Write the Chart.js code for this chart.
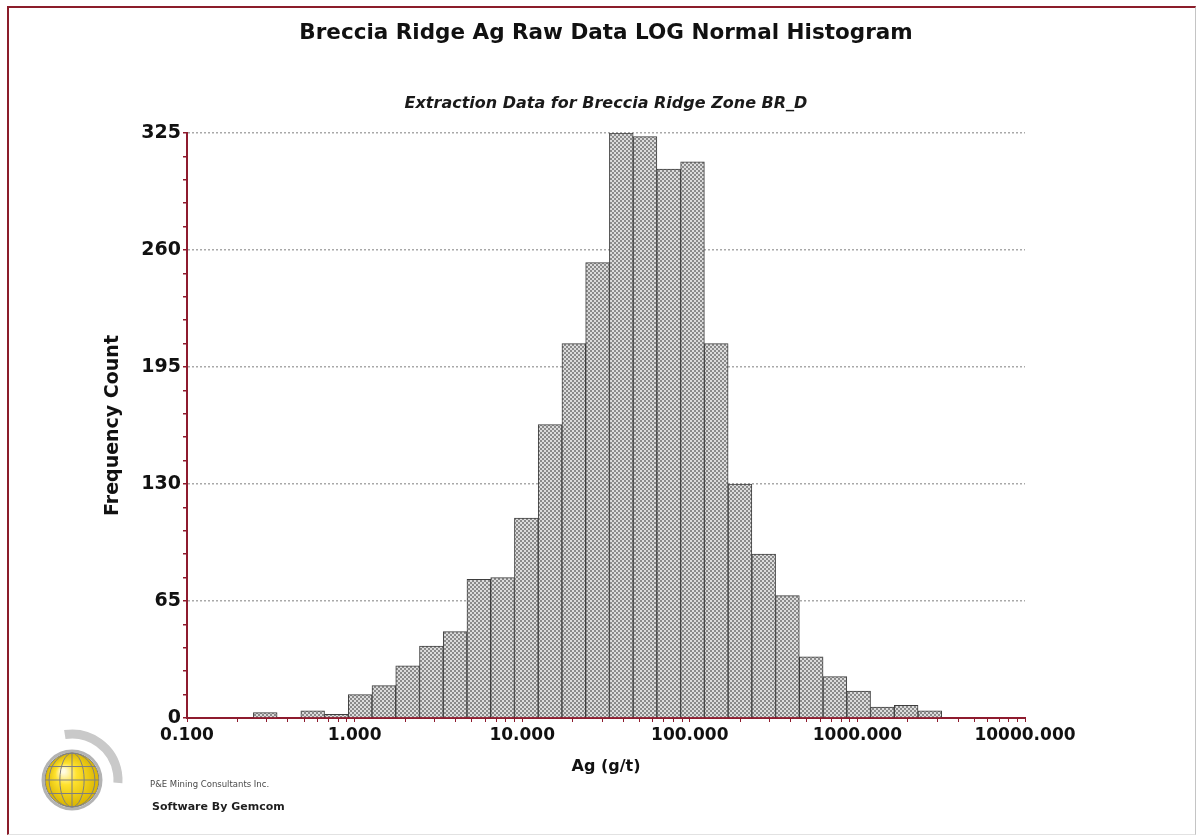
<!DOCTYPE html>
<html>
<head>
<meta charset="utf-8">
<title>Breccia Ridge Ag Raw Data LOG Normal Histogram</title>
<script src="https://cdn.jsdelivr.net/npm/chart.js@4.4.1/dist/chart.umd.min.js"></script>
<style>
  html, body { margin: 0; padding: 0; background: #fff; }
  #wrap { position: relative; width: 1199px; height: 840px; overflow: hidden; }
  #frame { position: absolute; left: 7px; top: 6px; width: 1186px; height: 826px;
           border-top: 2px solid #8b1d2a; border-left: 2px solid #8b1d2a;
           border-right: 1px solid #c4c4c4; border-bottom: 1px solid #e2e2e2; }
  #histChart { position: absolute; left: 0; top: 0; }
  #logo { position: absolute; left: 17px; top: 720px; }
  .credit { position: absolute; font-family: 'DejaVu Sans', sans-serif; white-space: nowrap; }
  #pe { left: 150px; top: 779px; font-size: 8.5px; color: #4a4a4a; }
  #gemcom { left: 152px; top: 800px; font-size: 11px; font-weight: bold; color: #1e1e1e; }
</style>
</head>
<body>
<div id="wrap">
  <div id="frame"></div>
  <canvas id="histChart" width="1199" height="840"></canvas>
  <canvas id="logo" width="120" height="110"></canvas>
  <div class="credit" id="pe">P&amp;E Mining Consultants Inc.</div>
  <div class="credit" id="gemcom">Software By Gemcom</div>
</div>
<script>
// bin centres (g/t) and frequency counts
const binCentres = [0.293, 0.406, 0.562, 0.779, 1.079, 1.495, 2.072, 2.871, 3.978, 5.512,
                    7.637, 10.58, 14.67, 20.32, 28.15, 39.01, 54.06, 74.89, 103.8, 143.8,
                    199.3, 276.1, 382.5, 530.1, 734.5, 1017.6, 1410, 1954, 2707];
const counts = [3, 0, 4, 2, 13, 18, 29, 40, 48, 77,
                78, 111, 163, 208, 253, 325, 323, 305, 309, 208,
                130, 91, 68, 34, 23, 15, 6, 7, 4];

const xMajorTicks = [0.1, 1, 10, 100, 1000, 10000];
const yMajorTicks = [0, 65, 130, 195, 260, 325];

const axisRed = '#8e1b2e';

// minor log ticks 2..9 in every decade
const xTickValues = [];
xMajorTicks.forEach((d, i) => {
  xTickValues.push(d);
  if (i < xMajorTicks.length - 1) {
    for (let k = 2; k <= 9; k++) xTickValues.push(d * k);
  }
});

function checkerFill() {
  const tile = document.createElement('canvas');
  tile.width = 4; tile.height = 4;
  const t = tile.getContext('2d');
  t.fillStyle = '#dcdcdc';
  t.fillRect(0, 0, 4, 4);
  t.fillStyle = '#8a8a8a';
  t.fillRect(0, 0, 2, 2);
  t.fillRect(2, 2, 2, 2);
  return t.createPattern(tile, 'repeat');
}

Chart.defaults.font.family = "'DejaVu Sans', sans-serif";
Chart.defaults.color = '#111';

const ctx = document.getElementById('histChart').getContext('2d');

new Chart(ctx, {
  type: 'bar',
  data: {
    datasets: [{
      label: 'Frequency',
      data: binCentres.map((x, i) => ({ x: x, y: counts[i] })),
      backgroundColor: checkerFill(),
      borderColor: '#3e3e3e',
      borderWidth: 1,
      barThickness: 'flex',
      barPercentage: 1,
      categoryPercentage: 1
    }]
  },
  options: {
    responsive: false,
    devicePixelRatio: 1,
    animation: false,
    layout: { padding: { left: 100, right: 174, top: 0, bottom: 52 } },
    plugins: {
      legend: { display: false },
      title: {
        display: true,
        fullSize: false,
        text: 'Breccia Ridge Ag Raw Data LOG Normal Histogram',
        color: '#111',
        font: { size: 21.5, weight: 'bold' },
        padding: { top: 21, bottom: 47 }
      },
      subtitle: {
        display: true,
        fullSize: false,
        text: 'Extraction Data for Breccia Ridge Zone BR_D',
        color: '#1a1a1a',
        font: { size: 16, weight: 'bold', style: 'italic' },
        padding: { top: 0, bottom: 20 }
      }
    },
    scales: {
      x: {
        type: 'logarithmic',
        min: 0.1,
        max: 10000,
        offset: false,
        afterBuildTicks: scale => {
          scale.ticks = xTickValues.map(v => ({ value: v, major: xMajorTicks.includes(v) }));
        },
        afterFit: scale => { scale.height = 70; },
        ticks: {
          autoSkip: false,
          maxRotation: 0,
          padding: 3,
          color: '#111',
          font: { size: 17, weight: 'bold' },
          callback: v => xMajorTicks.includes(v) ? v.toFixed(3) : ''
        },
        grid: {
          offset: false,
          drawOnChartArea: false,
          drawTicks: true,
          tickLength: 4,
          tickColor: axisRed
        },
        border: { display: true, color: axisRed, width: 2 },
        title: {
          display: true,
          text: 'Ag (g/t)',
          color: '#111',
          font: { size: 16, weight: 'bold' },
          padding: { top: 0, bottom: 12 }
        }
      },
      y: {
        min: 0,
        max: 325,
        afterFit: scale => { scale.width = 87; },
        ticks: {
          stepSize: 13,
          autoSkip: false,
          padding: 2,
          color: '#111',
          font: { size: 19, weight: 'bold' },
          callback: v => yMajorTicks.includes(v) ? String(v) : ''
        },
        grid: {
          color: c => (c.tick && c.tick.value > 0 && yMajorTicks.includes(c.tick.value)) ? '#a9a9a9' : 'rgba(0,0,0,0)',
          lineWidth: 1.5,
          tickLength: 4,
          tickColor: axisRed
        },
        border: { display: true, color: axisRed, width: 2, dash: [2, 2] },
        title: {
          display: true,
          text: 'Frequency Count',
          color: '#111',
          font: { size: 19, weight: 'bold' },
          padding: { top: 2, bottom: 0 }
        }
      }
    }
  }
});

// Gemcom globe logo
(function drawLogo() {
  const g = document.getElementById('logo').getContext('2d');
  const cx = 55, cy = 60, r = 27;
  g.strokeStyle = '#c9c9c9';
  g.lineWidth = 9;
  g.beginPath();
  g.arc(cx, cy, 46, -Math.PI * 0.55, Math.PI * 0.02);
  g.stroke();

  const grad = g.createRadialGradient(cx - 9, cy - 9, 2, cx, cy, r);
  grad.addColorStop(0, '#fffbe0');
  grad.addColorStop(0.35, '#ffe22e');
  grad.addColorStop(1, '#d8b300');
  g.fillStyle = grad;
  g.beginPath();
  g.arc(cx, cy, r, 0, 2 * Math.PI);
  g.fill();

  g.strokeStyle = '#b3b3b3';
  g.lineWidth = 3;
  g.beginPath();
  g.arc(cx, cy, r + 2, 0, 2 * Math.PI);
  g.stroke();

  g.strokeStyle = '#7f7f7f';
  g.lineWidth = 1;
  g.beginPath();
  g.arc(cx, cy, r, 0, 2 * Math.PI);
  g.stroke();
  [0.45, 0.85].forEach(f => {
    g.beginPath();
    g.ellipse(cx, cy, r * f, r, 0, 0, 2 * Math.PI);
    g.stroke();
  });
  g.beginPath();
  g.moveTo(cx, cy - r);
  g.lineTo(cx, cy + r);
  g.stroke();
  [-0.5, 0, 0.5].forEach(f => {
    const y = cy + f * r;
    const hw = Math.sqrt(r * r - (f * r) * (f * r));
    g.beginPath();
    g.moveTo(cx - hw, y);
    g.lineTo(cx + hw, y);
    g.stroke();
  });
})();
</script>
</body>
</html>
